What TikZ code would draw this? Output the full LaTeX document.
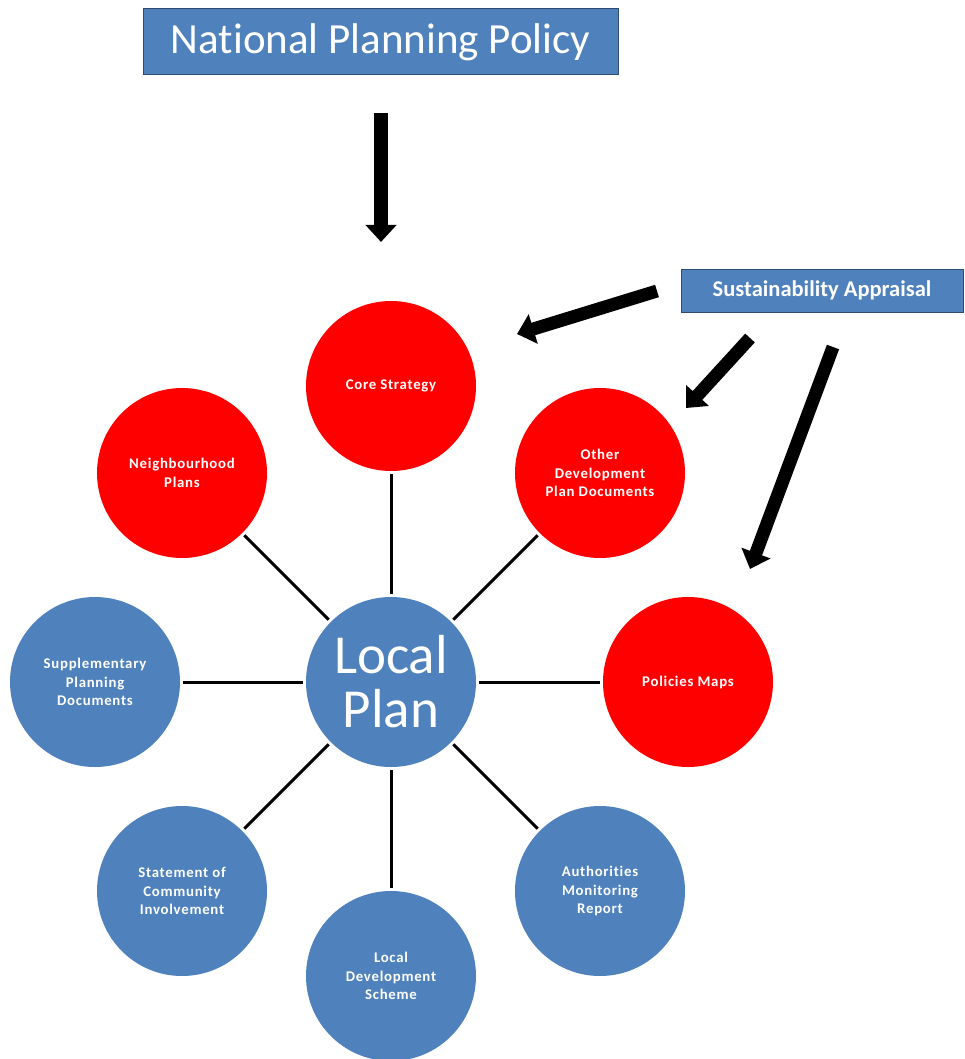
\documentclass[tikz,border=0pt]{standalone}
\usepackage{fontspec}
\setmainfont[Ligatures=NoCommon]{Carlito}
\usetikzlibrary{arrows.meta}
\definecolor{ublue}{HTML}{4F81BD}
\definecolor{uborder}{HTML}{2F4B6E}
\definecolor{ured}{HTML}{FF0000}
\newcommand\circfont{\bfseries\addfontfeature{LetterSpace=5}\fontsize{14.8}{18.5}\selectfont}
\begin{document}
\begin{tikzpicture}[x=1pt,y=-1pt,
  bubble/.style={circle, minimum size=170pt, inner sep=0pt, text=white, align=center, font=\circfont},
  redb/.style={bubble, fill=ured},
  blueb/.style={bubble, fill=ublue},
  link/.style={line width=3pt, shorten <=3pt, shorten >=3pt},
  bigarrow/.style={line width=13pt, -{Triangle[width=30pt,length=17pt]}},
  banner/.style={draw=uborder, line width=1pt, fill=ublue, text=white, inner sep=0pt}]
\fill[white] (0,0) rectangle (964,1059);
\useasboundingbox (0,0) rectangle (964,1059);

\node[banner, minimum width=475pt, minimum height=66pt, font=\fontsize{43}{50}\selectfont] (npp) at (380.5,42) {National Planning Policy};
\node[banner, minimum width=282pt, minimum height=43pt, font=\bfseries\fontsize{22.5}{28}\selectfont] (sa) at (822,290.5) {Sustainability Appraisal};

\node[blueb, font=\fontsize{55}{54}\selectfont] (lp) at (391,682) {Local\\Plan};
\node[redb] (core) at (391,386) {Core Strategy};
\node[redb] (nbh) at (182,473) {Neighbourhood\\Plans};
\node[redb] (odp) at (600,473) {Other\\Development\\Plan Documents};
\node[blueb] (spd) at (95,682) {Supplementary\\Planning\\Documents};
\node[redb] (pm) at (688,682) {Policies Maps};
\node[blueb] (sci) at (182,891) {Statement of\\Community\\Involvement};
\node[blueb] (lds) at (391,976) {Local\\Development\\Scheme};
\node[blueb] (amr) at (600,891) {Authorities\\Monitoring\\Report};

\foreach \n in {core,nbh,odp,spd,pm,sci,lds,amr}
  \draw[link] (\n) -- (lp);

\coordinate (a1s) at (381,113);
\coordinate (a1e) at (381,242);
\coordinate (a2s) at (657,291);
\coordinate (a2e) at (517,334);
\coordinate (a3s) at (750,338);
\coordinate (a3e) at (686,408);
\coordinate (a4s) at (833,347);
\coordinate (a4e) at (750,569);
\draw[bigarrow, line width=14pt] (a1s) -- (a1e);
\draw[bigarrow] (a2s) -- (a2e);
\draw[bigarrow] (a3s) -- (a3e);
\draw[bigarrow] (a4s) -- (a4e);
\end{tikzpicture}
\end{document}
